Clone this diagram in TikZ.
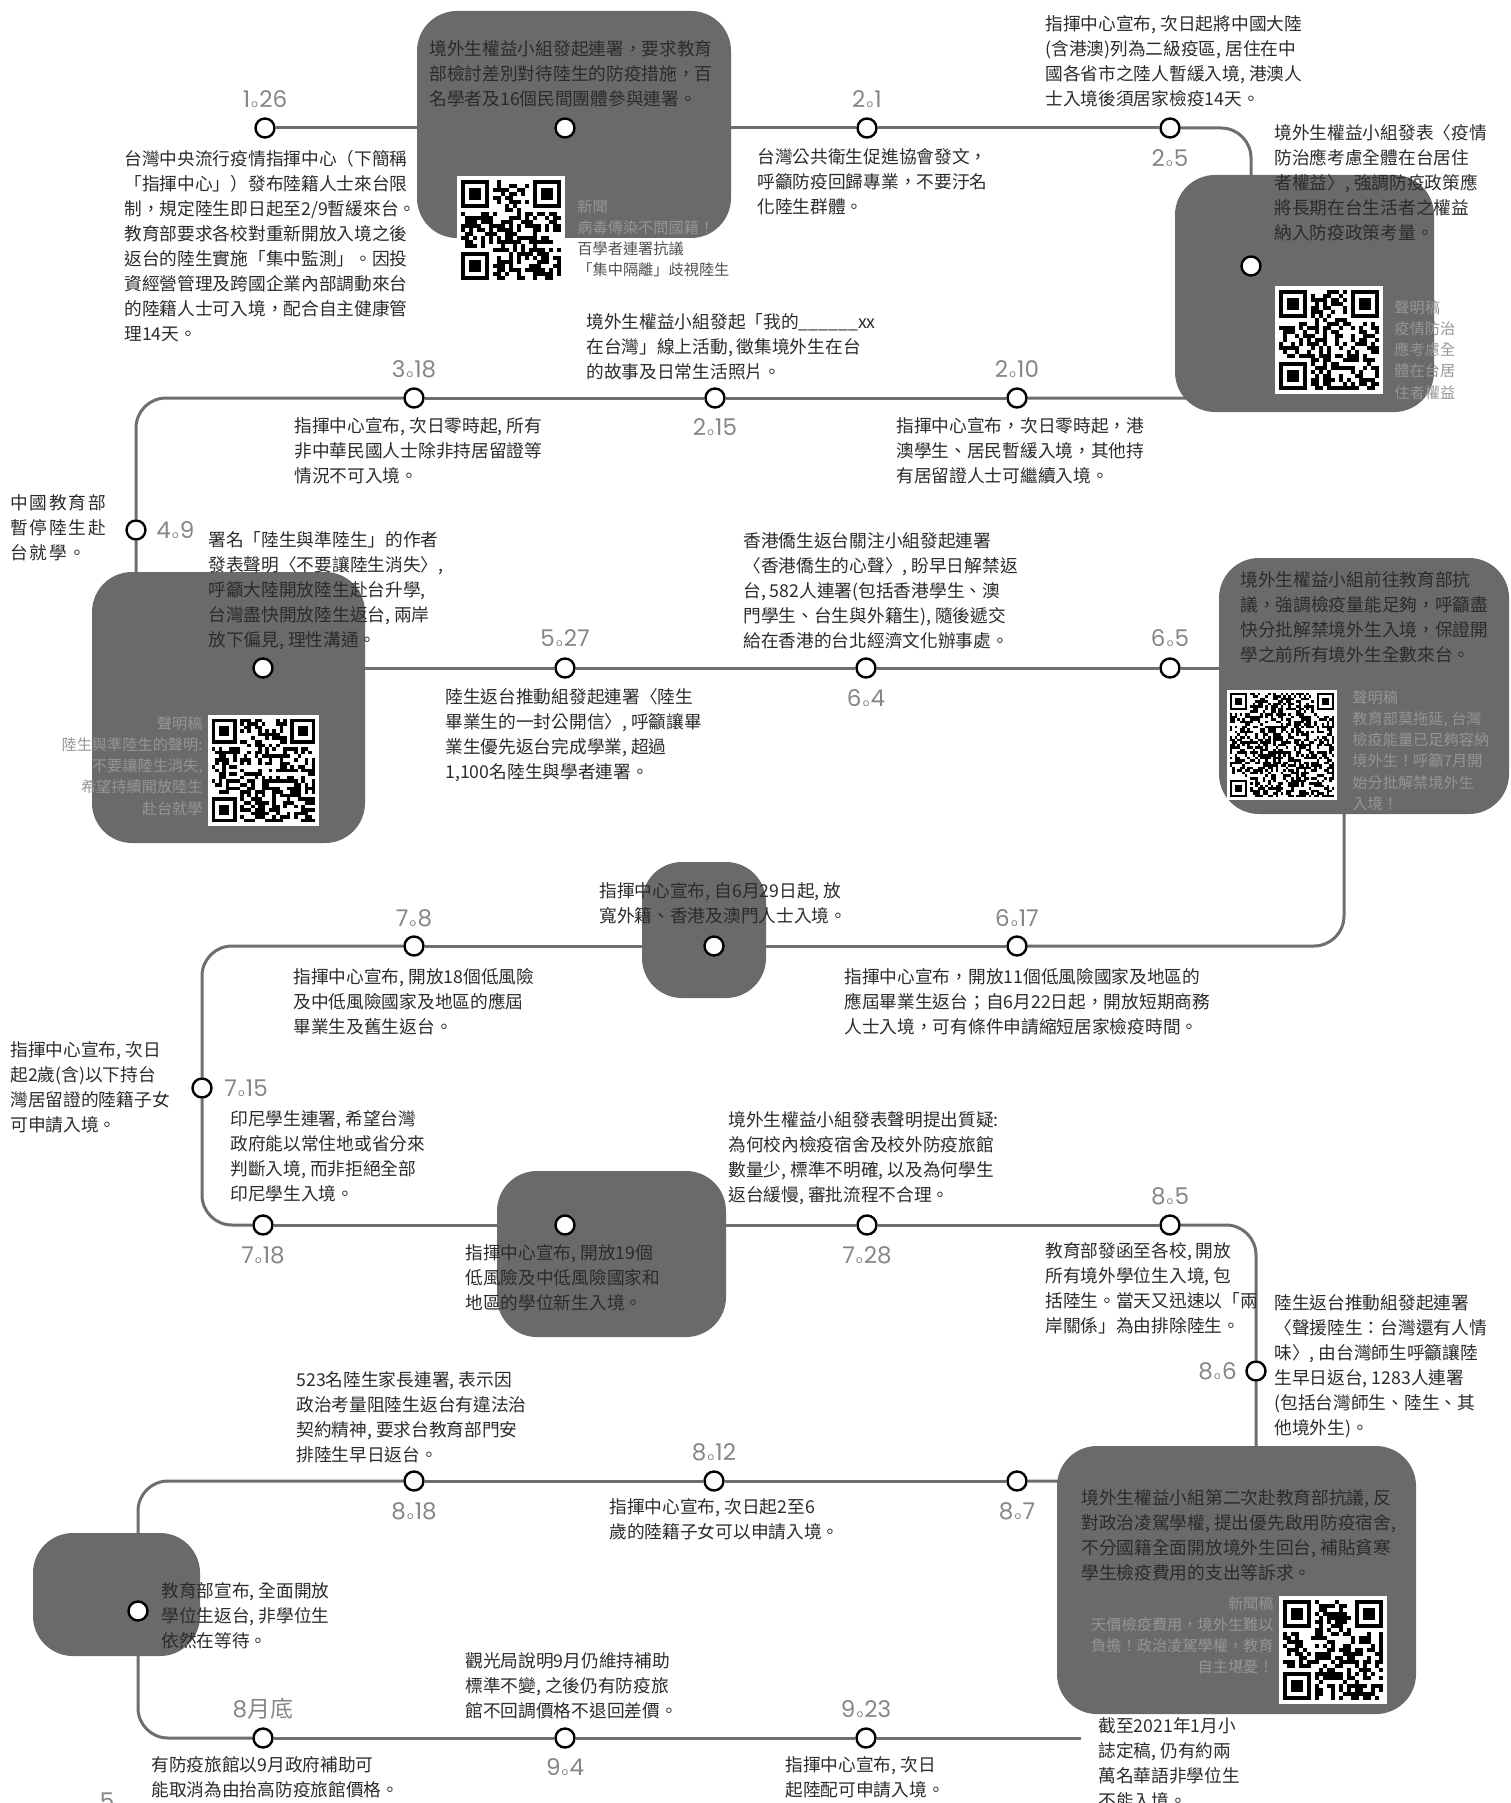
\documentclass[tikz,border=0pt]{standalone}
\usepackage{tikz}
\usepackage{fontspec}
\setmainfont{Noto Sans CJK TC}
\newfontfamily\datefont{Poppins}
\definecolor{linegray}{HTML}{6E6E6E}
\definecolor{boxgray}{HTML}{6A6A6D}
\definecolor{textc}{HTML}{2B2B2B}
\definecolor{dategray}{HTML}{858585}
\definecolor{capgray}{HTML}{959597}
\definecolor{capdark}{HTML}{505050}
\pgfdeclarelayer{bg}
\pgfdeclarelayer{mid}
\pgfsetlayers{bg,mid,main}
\newcommand\dd[2]{#1\kern0.6pt\scalebox{0.45}{o}\kern0.6pt#2}
% QR-like pattern: x, y (top-left), size, modules, seed
\newcommand\qrc[5]{%
  \pgfmathsetseed{#5}%
  \fill[white] (#1,#2) rectangle ++(#3,#3);
  \pgfmathsetmacro\qm{#3/(#4+2)}%
  \pgfmathtruncatemacro\qn{#4-1}%
  \pgfmathtruncatemacro\qlm{#4-9}%
  \pgfmathtruncatemacro\qf{#4-7}%
  \begin{scope}[shift={(#1+\qm,#2+\qm)}]
    \foreach \qi in {0,...,\qn}{\foreach \qj in {0,...,\qn}{%
      \pgfmathtruncatemacro\qd{ifthenelse(or(and(\qi<8,\qj<8),or(and(\qi>\qlm,\qj<8),and(\qi<8,\qj>\qlm))),0,rnd<0.5)}%
      \ifnum\qd=1 \fill[black] (\qi*\qm,\qj*\qm) rectangle ++(\qm,\qm);\fi
    }}
    \foreach \qa/\qb in {0/0,\qf/0,0/\qf}{%
      \fill[black] (\qa*\qm,\qb*\qm) rectangle ++(7*\qm,7*\qm);
      \fill[white] (\qa*\qm+\qm,\qb*\qm+\qm) rectangle ++(5*\qm,5*\qm);
      \fill[black] (\qa*\qm+2*\qm,\qb*\qm+2*\qm) rectangle ++(3*\qm,3*\qm);
    }
  \end{scope}
}
\begin{document}
\begin{tikzpicture}[x=0.5pt,y=-0.5pt,
  tl/.style={draw=linegray, line width=1.5pt, rounded corners=15pt},
  ev/.style={circle, draw=black, fill=white, line width=1.2pt, minimum size=9.5pt, inner sep=0pt},
  txt/.style={font=\fontsize{8.85pt}{12.5pt}\selectfont, text=textc, align=left, inner sep=0pt, anchor=north west},
  dlab/.style={font=\datefont\fontsize{11.5pt}{13pt}\selectfont, text=dategray, inner sep=0pt},
  capt/.style={font=\fontsize{7.6pt}{10.6pt}\selectfont, text=capgray, align=left, inner sep=0pt, anchor=north west},
  boxf/.style={fill=boxgray, rounded corners=20pt}]
\useasboundingbox (0,0) rectangle (1510,1803);

% ---------- event nodes ----------
\node[ev] (d126) at (265,128) {};
\node[ev] (b1) at (565,128) {};
\node[ev] (d21) at (867,128) {};
\node[ev] (d25) at (1170,128) {};
\node[ev] (b2) at (1251,266) {};
\node[ev] (d210) at (1017,398) {};
\node[ev] (d215) at (715,398) {};
\node[ev] (d318) at (414,398) {};
\node[ev] (d49) at (136,530) {};
\node[ev] (b3) at (263,668) {};
\node[ev] (d527) at (565,668) {};
\node[ev] (d64) at (866,668) {};
\node[ev] (d65) at (1170,668) {};
\coordinate (b4) at (1344,668);
\node[ev] (d617) at (1017,946) {};
\node[ev] (b5) at (714,946) {};
\node[ev] (d78) at (414,946) {};
\node[ev] (d715) at (202,1088) {};
\node[ev] (d718) at (263,1225) {};
\node[ev] (b6) at (565,1225) {};
\node[ev] (d728) at (867,1225) {};
\node[ev] (d85) at (1170,1225) {};
\node[ev] (d86) at (1256,1371) {};
\node[ev] (d87) at (1017,1481) {};
\node[ev] (d812) at (714,1481) {};
\node[ev] (d818) at (414,1481) {};
\node[ev] (b8) at (138,1611) {};
\node[ev] (d8e) at (263,1738) {};
\node[ev] (d94) at (565,1738) {};
\node[ev] (d923) at (866,1738) {};
\coordinate (endp) at (1081,1738);

% ---------- timeline ----------
\begin{pgfonlayer}{bg}
\draw[tl] (d126) -- (b1) -- (d21) -- (d25);
\draw[tl] (d25) -| (b2);
\draw[tl] (b2) |- (d210);
\draw[tl] (d210) -- (d215) -- (d318);
\draw[tl] (d318) -| (d49);
\draw[tl] (d49) |- (b3);
\draw[tl] (b3) -- (d527) -- (d64) -- (d65) -- (b4);
\draw[tl] (b4) |- (d617);
\draw[tl] (d617) -- (b5) -- (d78);
\draw[tl] (d78) -| (d715);
\draw[tl] (d715) |- (d718);
\draw[tl] (d718) -- (b6) -- (d728) -- (d85);
\draw[tl] (d85) -| (d86);
\draw[tl] (d86) |- (d87);
\draw[tl] (d87) -- (d812) -- (d818);
\draw[tl] (d818) -| (b8);
\draw[tl] (b8) |- (d8e);
\draw[tl] (d8e) -- (d94) -- (d923) -- (endp);
\end{pgfonlayer}

% ---------- boxes and codes ----------
\begin{pgfonlayer}{mid}
\fill[boxf] (417,11) rectangle (731,238);
\fill[boxf] (1175,175) rectangle (1434,412);
\fill[boxf] (92,572) rectangle (365,843);
\fill[boxf] (1219,558) rectangle (1509,814);
\fill[boxf] (642,862) rectangle (766,998);
\fill[boxf] (497,1171) rectangle (726,1337);
\fill[boxf] (1057,1446) rectangle (1416,1714);
\fill[boxf] (33,1533) rectangle (200,1656);
\qrc{457}{176}{108}{25}{11}
\qrc{1275}{286}{108}{25}{23}
\qrc{208}{715}{111}{29}{37}
\qrc{1227}{690}{110}{41}{49}
\qrc{1279}{1596}{108}{25}{53}
\end{pgfonlayer}

% ---------- date labels ----------
\node[dlab] (l126) at (265,99) {\dd{1}{26}};
\node[dlab] (l21) at (867,99) {\dd{2}{1}};
\node[dlab] (l25) at (1170,158) {\dd{2}{5}};
\node[dlab] (l318) at (414,369) {\dd{3}{18}};
\node[dlab] (l215) at (715,427) {\dd{2}{15}};
\node[dlab] (l210) at (1017,369) {\dd{2}{10}};
\node[dlab, anchor=west] (l49) at (156,530) {\dd{4}{9}};
\node[dlab] (l527) at (565,638) {\dd{5}{27}};
\node[dlab] (l64) at (866,698) {\dd{6}{4}};
\node[dlab] (l65) at (1170,638) {\dd{6}{5}};
\node[dlab] (l78) at (414,918) {\dd{7}{8}};
\node[dlab] (l617) at (1017,918) {\dd{6}{17}};
\node[dlab, anchor=west] (l715) at (224,1088) {\dd{7}{15}};
\node[dlab] (l718) at (263,1255) {\dd{7}{18}};
\node[dlab] (l728) at (867,1255) {\dd{7}{28}};
\node[dlab] (l85) at (1170,1196) {\dd{8}{5}};
\node[dlab, anchor=east] (l86) at (1237,1371) {\dd{8}{6}};
\node[dlab] (l818) at (414,1511) {\dd{8}{18}};
\node[dlab] (l812) at (714,1452) {\dd{8}{12}};
\node[dlab] (l87) at (1017,1511) {\dd{8}{7}};
\node[dlab] (l8e) at (263,1709) {8{\rmfamily 月底}};
\node[dlab] (l94) at (565,1767) {\dd{9}{4}};
\node[dlab] (l923) at (866,1709) {\dd{9}{23}};
\node[dlab, anchor=north] (pg) at (107,1792) {5};

% ---------- texts ----------
\node[txt] (t126) at (124,150) {台灣中央流行疫情指揮中心（下簡稱\\「指揮中心」）發布陸籍人士來台限\\制，規定陸生即日起至2/9暫緩來台。\\教育部要求各校對重新開放入境之後\\返台的陸生實施「集中監測」。因投\\資經營管理及跨國企業內部調動來台\\的陸籍人士可入境，配合自主健康管\\理14天。};
\node[txt] (tb1) at (429,40) {境外生權益小組發起連署，要求教育\\部檢討差別對待陸生的防疫措施，百\\名學者及16個民間團體參與連署。};
\node[capt] (c1) at (577,199) {新聞\\病毒傳染不問國籍！\\{\color{capdark}百學者連署抗議}\\{\color{capdark}「集中隔離」歧視陸生}};
\node[txt] (t21) at (757,148) {台灣公共衛生促進協會發文，\\呼籲防疫回歸專業，不要汙名\\化陸生群體。};
\node[txt] (t25) at (1045,15) {指揮中心宣布, 次日起將中國大陸\\(含港澳)列為二級疫區, 居住在中\\國各省市之陸人暫緩入境, 港澳人\\士入境後須居家檢疫14天。};
\node[txt] (tb2) at (1274,124) {境外生權益小組發表〈疫情\\防治應考慮全體在台居住\\者權益〉, 強調防疫政策應\\將長期在台生活者之權益\\納入防疫政策考量。};
\node[capt] (c2) at (1394,300) {聲明稿\\疫情防治\\應考慮全\\體在台居\\住者權益};
\node[txt] (t215) at (586,313) {境外生權益小組發起「我的\_\_\_\_\_\_xx\\在台灣」線上活動, 徵集境外生在台\\的故事及日常生活照片。};
\node[txt] (t318) at (294,417) {指揮中心宣布, 次日零時起, 所有\\非中華民國人士除非持居留證等\\情況不可入境。};
\node[txt] (t210) at (896,417) {指揮中心宣布，次日零時起，港\\澳學生、居民暫緩入境，其他持\\有居留證人士可繼續入境。};
\node[txt, font=\fontsize{8.85pt}{12.5pt}\selectfont\addfontfeature{LetterSpace=10}] (t49) at (10,494) {中國教育部\\暫停陸生赴\\台就學。};
\node[txt] (tb3) at (208,531) {署名「陸生與準陸生」的作者\\發表聲明〈不要讓陸生消失〉,\\呼籲大陸開放陸生赴台升學,\\台灣盡快開放陸生返台, 兩岸\\放下偏見, 理性溝通。};
\node[capt, anchor=north east, align=right] (c3) at (203,716) {聲明稿\\陸生與準陸生的聲明:\\不要讓陸生消失,\\希望持續開放陸生\\赴台就學};
\node[txt] (t527) at (445,688) {陸生返台推動組發起連署〈陸生\\畢業生的一封公開信〉, 呼籲讓畢\\業生優先返台完成學業, 超過\\1,100名陸生與學者連署。};
\node[txt] (t64) at (743,532) {香港僑生返台關注小組發起連署\\〈香港僑生的心聲〉, 盼早日解禁返\\台, 582人連署(包括香港學生、澳\\門學生、台生與外籍生), 隨後遞交\\給在香港的台北經濟文化辦事處。};
\node[txt] (tb4) at (1240,571) {境外生權益小組前往教育部抗\\議，強調檢疫量能足夠，呼籲盡\\快分批解禁境外生入境，保證開\\學之前所有境外生全數來台。};
\node[capt] (c4) at (1352,690) {聲明稿\\教育部莫拖延, 台灣\\檢疫能量已足夠容納\\境外生！呼籲7月開\\始分批解禁境外生\\入境！};
\node[txt] (tb5) at (599,882) {指揮中心宣布, 自6月29日起, 放\\寬外籍、香港及澳門人士入境。};
\node[txt] (t78) at (293,968) {指揮中心宣布, 開放18個低風險\\及中低風險國家及地區的應屆\\畢業生及舊生返台。};
\node[txt] (t617) at (844,968) {指揮中心宣布，開放11個低風險國家及地區的\\應屆畢業生返台；自6月22日起，開放短期商務\\人士入境，可有條件申請縮短居家檢疫時間。};
\node[txt] (t715a) at (10,1041) {指揮中心宣布, 次日\\起2歲(含)以下持台\\灣居留證的陸籍子女\\可申請入境。};
\node[txt] (t715b) at (230,1110) {印尼學生連署, 希望台灣\\政府能以常住地或省分來\\判斷入境, 而非拒絕全部\\印尼學生入境。};
\node[txt] (t728) at (728,1111) {境外生權益小組發表聲明提出質疑:\\為何校內檢疫宿舍及校外防疫旅館\\數量少, 標準不明確, 以及為何學生\\返台緩慢, 審批流程不合理。};
\node[txt] (tb6) at (465,1244) {指揮中心宣布, 開放19個\\低風險及中低風險國家和\\地區的學位新生入境。};
\node[txt] (t85) at (1045,1242) {教育部發函至各校, 開放\\所有境外學位生入境, 包\\括陸生。當天又迅速以「兩\\岸關係」為由排除陸生。};
\node[txt] (t86) at (1274,1294) {陸生返台推動組發起連署\\〈聲援陸生：台灣還有人情\\味〉, 由台灣師生呼籲讓陸\\生早日返台, 1283人連署\\(包括台灣師生、陸生、其\\他境外生)。};
\node[txt] (t818) at (296,1371) {523名陸生家長連署, 表示因\\政治考量阻陸生返台有違法治\\契約精神, 要求台教育部門安\\排陸生早日返台。};
\node[txt] (t812) at (609,1498) {指揮中心宣布, 次日起2至6\\歲的陸籍子女可以申請入境。};
\node[txt] (tb7) at (1081,1489) {境外生權益小組第二次赴教育部抗議, 反\\對政治凌駕學權, 提出優先啟用防疫宿舍,\\不分國籍全面開放境外生回台, 補貼貧寒\\學生檢疫費用的支出等訴求。};
\node[capt, anchor=north east, align=right] (c7) at (1274,1596) {新聞稿\\天價檢疫費用，境外生難以\\負擔！政治凌駕學權，教育\\自主堪憂！};
\node[txt] (tb8) at (161,1582) {教育部宣布, 全面開放\\學位生返台, 非學位生\\依然在等待。};
\node[txt] (t94) at (465,1652) {觀光局說明9月仍維持補助\\標準不變, 之後仍有防疫旅\\館不回調價格不退回差價。};
\node[txt] (t8e) at (151,1756) {有防疫旅館以9月政府補助可\\能取消為由抬高防疫旅館價格。};
\node[txt] (t923) at (785,1756) {指揮中心宣布, 次日\\起陸配可申請入境。};
\node[txt] (tend) at (1098,1717) {截至2021年1月小\\誌定稿, 仍有約兩\\萬名華語非學位生\\不能入境。};
\end{tikzpicture}
\end{document}
